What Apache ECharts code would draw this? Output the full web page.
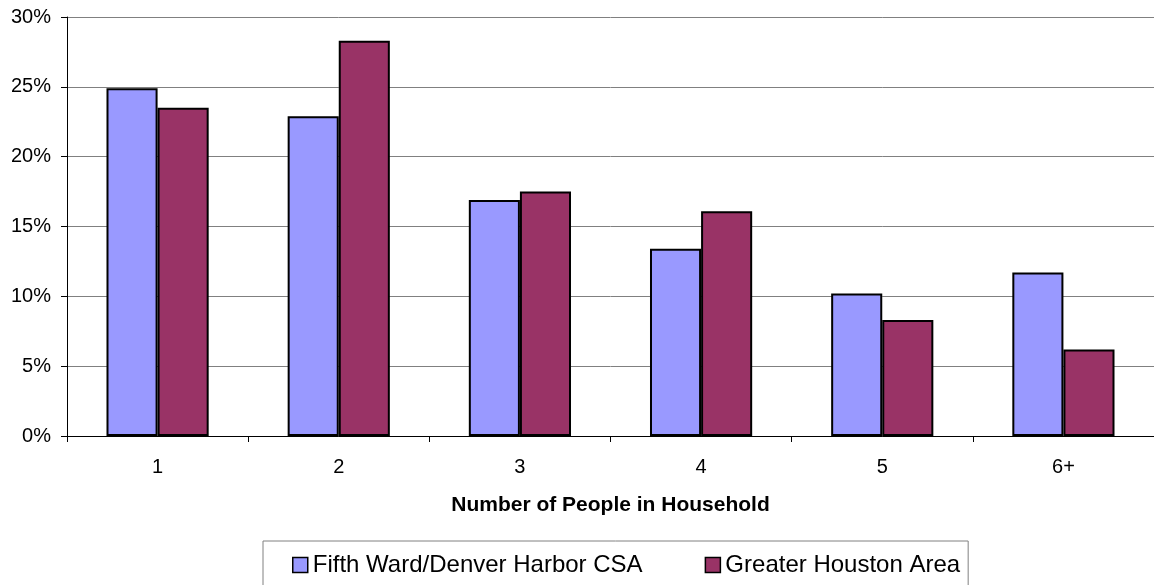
<!DOCTYPE html>
<html lang="en">
<head>
    <meta charset="UTF-8">
    <title>Household size</title>
    <script src="https://cdn.jsdelivr.net/npm/echarts@6/dist/echarts.min.js"></script>
    <style>
        html, body { margin: 0; padding: 0; background: #fff; }
    </style>
</head>
<body>
    <div id="chart" style="width: 1154px;height:585px"></div>
<script>
    var categories = ['1', '2', '3', '4', '5', '6+'];
    var fifthWard = [24.9, 22.9, 16.9, 13.4, 10.2, 11.7];
    var houston = [23.5, 28.3, 17.5, 16.1, 8.3, 6.2];
    var seriesNames = ['Fifth Ward/Denver Harbor CSA', 'Greater Houston Area'];

    var chart = echarts.init(document.getElementById('chart'));

    var option = {
        animation: false,
        textStyle: { fontFamily: 'Liberation Sans, Arial, sans-serif' },
        grid: {
            left: 67,
            right: -1,
            top: 17,
            bottom: 149
        },
        legend: {
            left: 263,
            top: 541,
            padding: [12, 8, 30, 29],
            borderColor: '#808080',
            borderWidth: 1,
            itemGap: 62,
            itemWidth: 15,
            itemHeight: 15,
            icon: 'rect',
            itemStyle: { borderColor: '#000', borderWidth: 1.5 },
            textStyle: { fontSize: 24, color: '#000' },
            data: seriesNames
        },
        xAxis: {
            type: 'category',
            data: categories,
            name: 'Number of People in Household',
            nameLocation: 'middle',
            nameGap: 59,
            nameTextStyle: { fontSize: 21, fontWeight: 'bold', color: '#000' },
            axisLine: { lineStyle: { color: '#000', width: 1 } },
            axisTick: { show: true, inside: false, length: 6, lineStyle: { color: '#000' } },
            axisLabel: { fontSize: 20, color: '#000', margin: 21 }
        },
        yAxis: {
            type: 'value',
            min: 0,
            max: 30,
            interval: 5,
            axisLine: { show: true, lineStyle: { color: '#000', width: 1 } },
            axisTick: { show: true, length: 6, lineStyle: { color: '#000' } },
            axisLabel: {
                fontSize: 20,
                color: '#000',
                margin: 16,
                formatter: '{value}%'
            },
            splitLine: { lineStyle: { color: '#808080', width: 1 } }
        },
        series: [{
            name: seriesNames[0],
            type: 'bar',
            data: fifthWard,
            barGap: '0%',
            barCategoryGap: '43.6%',
            itemStyle: { color: '#9999FF', borderColor: '#000', borderWidth: 2 }
        }, {
            name: seriesNames[1],
            type: 'bar',
            data: houston,
            itemStyle: { color: '#993366', borderColor: '#000', borderWidth: 2 }
        }]
    };
    chart.setOption(option);
</script>
</body>
</html>
